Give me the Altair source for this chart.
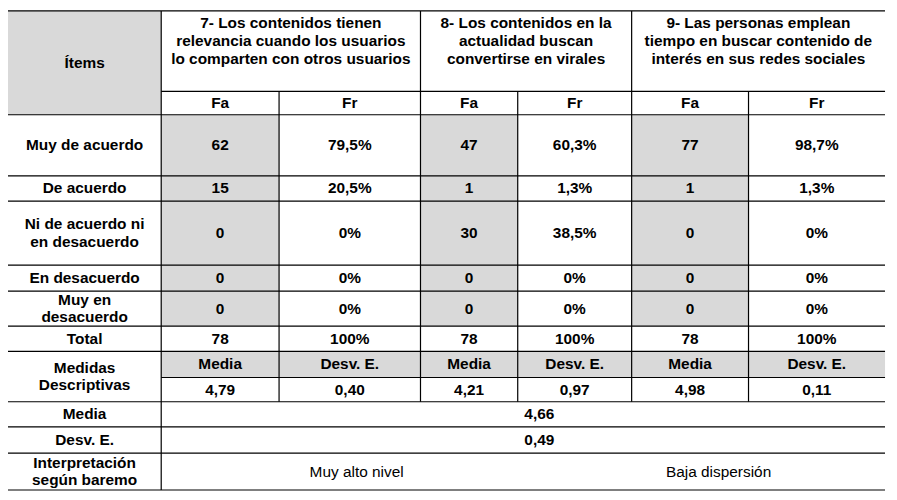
import altair as alt
import pandas as pd

# ---------------- data ----------------
items = ["Muy de acuerdo", "De acuerdo", "Ni de acuerdo ni\nen desacuerdo",
         "En desacuerdo", "Muy en\ndesacuerdo", "Total"]
questions = [
    "7- Los contenidos tienen\nrelevancia cuando los usuarios\nlo comparten con otros usuarios",
    "8- Los contenidos en la\nactualidad buscan\nconvertirse en virales",
    "9- Las personas emplean\ntiempo en buscar contenido de\ninterés en sus redes sociales",
]
fa_q7 = [62, 15, 0, 0, 0, 78]
fr_q7 = ["79,5%", "20,5%", "0%", "0%", "0%", "100%"]
fa_q8 = [47, 1, 30, 0, 0, 78]
fr_q8 = ["60,3%", "1,3%", "38,5%", "0%", "0%", "100%"]
fa_q9 = [77, 1, 0, 0, 0, 78]
fr_q9 = ["98,7%", "1,3%", "0%", "0%", "0%", "100%"]
media_q = ["4,79", "4,21", "4,98"]
desv_q = ["0,40", "0,97", "0,11"]
media_global = "4,66"
desv_global = "0,49"
interpretacion = ["Muy alto nivel", "Baja dispersión"]

# ---------------- layout (table grid) ----------------
COLS = [0, 156, 276, 420, 519, 635, 754, 893]
ROWS = [3, 86, 110, 173, 199, 265, 292, 328, 354, 381, 406, 432, 459, 497]
MERGED_CX = 541
INTERP_SPLIT = 554
GRAY = "#d9d9d9"
LINE_STEP = 18.2  # line spacing in table units

fa_all = [fa_q7, fa_q8, fa_q9]
fr_all = [fr_q7, fr_q8, fr_q9]


def cx(c0, c1):
    return (COLS[c0] + COLS[c1]) / 2


def cy(r0, r1):
    return (ROWS[r0] + ROWS[r1]) / 2


texts = []  # x, y (block centre), text, bold
texts.append((cx(0, 1), cy(0, 2), "Ítems", True))
for q in range(3):
    c = 1 + 2 * q
    texts.append((cx(c, c + 2), ROWS[0] + 31, questions[q], True))
    texts.append((cx(c, c + 1), cy(1, 2), "Fa", True))
    texts.append((cx(c + 1, c + 2), cy(1, 2), "Fr", True))
    for i in range(len(items)):
        texts.append((cx(c, c + 1), cy(2 + i, 3 + i), str(fa_all[q][i]), True))
        texts.append((cx(c + 1, c + 2), cy(2 + i, 3 + i), fr_all[q][i], True))
    texts.append((cx(c, c + 1), cy(8, 9), "Media", True))
    texts.append((cx(c + 1, c + 2), cy(8, 9), "Desv. E.", True))
    texts.append((cx(c, c + 1), cy(9, 10), media_q[q], True))
    texts.append((cx(c + 1, c + 2), cy(9, 10), desv_q[q], True))
for i, it in enumerate(items):
    texts.append((cx(0, 1), cy(2 + i, 3 + i), it, True))
texts.append((cx(0, 1), cy(8, 10), "Medidas\nDescriptivas", True))
texts.append((cx(0, 1), cy(10, 11), "Media", True))
texts.append((cx(0, 1), cy(11, 12), "Desv. E.", True))
texts.append((cx(0, 1), cy(12, 13), "Interpretación\nsegún baremo", True))
texts.append((MERGED_CX, cy(10, 11), media_global, True))
texts.append((MERGED_CX, cy(11, 12), desv_global, True))
texts.append(((COLS[1] + INTERP_SPLIT) / 2, cy(12, 13), interpretacion[0], False))
texts.append(((INTERP_SPLIT + COLS[7]) / 2, cy(12, 13), interpretacion[1], False))

# shift multi-line blocks so the whole block is centred on y
texts = [(x, y - (t.count("\n")) * LINE_STEP / 2, t, b) for (x, y, t, b) in texts]
text_df = pd.DataFrame(texts, columns=["x", "y", "label", "bold"])

fills = [(COLS[0], COLS[1], ROWS[0], ROWS[2])]
for c in (1, 3, 5):
    fills.append((COLS[c], COLS[c + 1], ROWS[2], ROWS[7]))
fills.append((COLS[1], COLS[7], ROWS[8], ROWS[9]))
fill_df = pd.DataFrame(fills, columns=["x", "x2", "y", "y2"])

rules = []
for r in [0, 2, 3, 4, 5, 6, 7, 8, 10, 11, 12, 13]:
    rules.append((COLS[0], COLS[7], ROWS[r], ROWS[r]))
for r in [1, 9]:
    rules.append((COLS[1], COLS[7], ROWS[r], ROWS[r]))
rules.append((COLS[1], COLS[1], ROWS[0], ROWS[13]))
for c in (3, 5):
    rules.append((COLS[c], COLS[c], ROWS[0], ROWS[10]))
for c in (2, 4, 6):
    rules.append((COLS[c], COLS[c], ROWS[1], ROWS[10]))
rule_df = pd.DataFrame(rules, columns=["x", "x2", "y", "y2"])

W, H = 879, 480
xs = alt.Scale(domain=[0, 895], nice=False, zero=False)
ys = alt.Scale(domain=[2, 497], nice=False, zero=False, reverse=True)

rects = alt.Chart(fill_df).mark_rect(color=GRAY).encode(
    x=alt.X("x:Q", scale=xs, axis=None), x2="x2:Q",
    y=alt.Y("y:Q", scale=ys, axis=None), y2="y2:Q",
)
lines = alt.Chart(rule_df).mark_rule(color="black", strokeWidth=1.2).encode(
    x=alt.X("x:Q", scale=xs, axis=None), x2="x2:Q",
    y=alt.Y("y:Q", scale=ys, axis=None), y2="y2:Q",
)
base_text = dict(font="Liberation Sans", fontSize=15.4, color="black",
                 align="center", baseline="middle", lineBreak="\n",
                 lineHeight=LINE_STEP * H / 495)
bold_text = alt.Chart(text_df).transform_filter("datum.bold").mark_text(
    fontWeight="bold", **base_text).encode(
    x=alt.X("x:Q", scale=xs, axis=None),
    y=alt.Y("y:Q", scale=ys, axis=None),
    text="label:N",
)
norm_text = alt.Chart(text_df).transform_filter("!datum.bold").mark_text(
    fontWeight="normal", **base_text).encode(
    x=alt.X("x:Q", scale=xs, axis=None),
    y=alt.Y("y:Q", scale=ys, axis=None),
    text="label:N",
)

chart = alt.layer(rects, lines, bold_text, norm_text).properties(
    width=W, height=H,
    padding={"left": 0, "top": 2, "right": 2, "bottom": 2},
    autosize=alt.AutoSizeParams(type="none"),
    background="white",
).configure_view(stroke=None)

chart.save("out.html", embed_options={"renderer": "svg", "actions": False})
